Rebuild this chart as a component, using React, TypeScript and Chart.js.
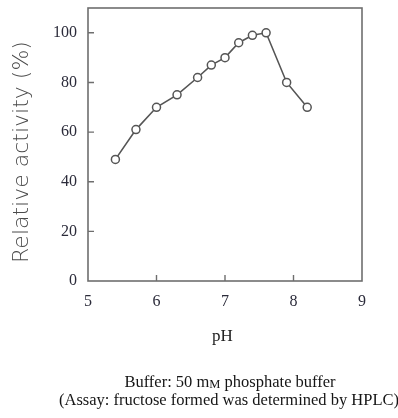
import React, { useEffect, useRef } from "react";
import { Chart, registerables } from "chart.js";

Chart.register(...registerables);

const phValues = [5.4, 5.7, 6.0, 6.3, 6.6, 6.8, 7.0, 7.2, 7.4, 7.6, 7.9, 8.2];
const activity = [49, 61, 70, 75, 82, 87, 90, 96, 99, 100, 80, 70];
const xTicks = [5, 6, 7, 8, 9];
const yTicks = [0, 20, 40, 60, 80, 100];
const yTitle = "Relative activity (%)";
const xTitle = "pH";
const captionLine1a = "Buffer: 50 m";
const captionLine1b = "M";
const captionLine1c = " phosphate buffer";
const captionLine2 = "(Assay: fructose formed was determined by HPLC)";

const frameColor = "#6e6e6e";
const tickFont = "16px 'Liberation Serif', 'Times New Roman', serif";
const tickColor = "#2b2b3a";

const framePlugin = {
  id: "framePlugin",
  afterDraw(chart: any) {
    const ctx = chart.ctx;
    const { left, right, top, bottom } = chart.chartArea;
    const xs = chart.scales.x;
    const ys = chart.scales.y;
    ctx.save();
    // frame
    ctx.strokeStyle = frameColor;
    ctx.lineWidth = 1.6;
    ctx.strokeRect(left, top, right - left, bottom - top);
    // inward ticks
    ctx.lineWidth = 1.4;
    ctx.beginPath();
    yTicks.forEach((v) => {
      if (v === 0) return;
      const y = ys.getPixelForValue(v);
      ctx.moveTo(left, y);
      ctx.lineTo(left + 6, y);
    });
    xTicks.forEach((v) => {
      if (v === 5 || v === 9) return;
      const x = xs.getPixelForValue(v);
      ctx.moveTo(x, bottom);
      ctx.lineTo(x, bottom - 6);
    });
    ctx.stroke();
    // tick labels
    ctx.fillStyle = tickColor;
    ctx.font = tickFont;
    ctx.textAlign = "right";
    ctx.textBaseline = "middle";
    yTicks.forEach((v) => {
      ctx.fillText(String(v), left - 11, ys.getPixelForValue(v));
    });
    ctx.textAlign = "center";
    xTicks.forEach((v) => {
      ctx.fillText(String(v), xs.getPixelForValue(v), bottom + 21);
    });
    // x title
    ctx.font = "17px 'Liberation Serif', 'Times New Roman', serif";
    ctx.fillStyle = "#222";
    ctx.textBaseline = "middle";
    ctx.fillText(xTitle, 222.5, 337);
    // y title
    ctx.save();
    ctx.translate(22, 152);
    ctx.rotate(-Math.PI / 2);
    ctx.font = "200 22px 'DejaVu Sans', sans-serif";
    ctx.fillStyle = "#4a4a4a";
    ctx.textAlign = "center";
    ctx.textBaseline = "middle";
    ctx.fillText(yTitle, 0, 0);
    ctx.restore();
    // captions
    const capFont = "16.5px 'Liberation Serif', 'Times New Roman', serif";
    const smallFont = "12.5px 'Liberation Serif', 'Times New Roman', serif";
    ctx.fillStyle = "#151515";
    ctx.textBaseline = "middle";
    ctx.textAlign = "left";
    ctx.font = capFont;
    const wa = ctx.measureText(captionLine1a).width;
    const wc = ctx.measureText(captionLine1c).width;
    ctx.font = smallFont;
    const wb = ctx.measureText(captionLine1b).width;
    const total = wa + wb + wc;
    let cx = 230 - total / 2;
    ctx.font = capFont;
    ctx.fillText(captionLine1a, cx, 383);
    cx += wa;
    ctx.font = smallFont;
    ctx.fillText(captionLine1b, cx, 384.5);
    cx += wb;
    ctx.font = capFont;
    ctx.fillText(captionLine1c, cx, 383);
    ctx.textAlign = "center";
    ctx.fillText(captionLine2, 229, 401);
    ctx.restore();
  },
};

export default function App() {
  const canvasRef = useRef<HTMLCanvasElement | null>(null);

  useEffect(() => {
    if (!canvasRef.current) return;
    const chart = new Chart(canvasRef.current, {
      type: "line",
      data: {
        datasets: [
          {
            data: phValues.map((x, i) => ({ x, y: activity[i] })),
            borderColor: "#555",
            borderWidth: 1.6,
            pointRadius: 4,
            pointBackgroundColor: "#fff",
            pointBorderColor: "#555",
            pointBorderWidth: 1.5,
            tension: 0,
            fill: false,
          },
        ],
      },
      options: {
        responsive: false,
        animation: false,
        layout: { padding: { left: 0, top: 8, right: 36, bottom: 0 } },
        plugins: { legend: { display: false }, tooltip: { enabled: false }, title: { display: false } },
        scales: {
          x: {
            type: "linear",
            min: 5,
            max: 9,
            grid: { display: false },
            border: { display: false },
            ticks: { display: false },
            afterBuildTicks: (s: any) => {
              s.ticks = xTicks.map((v) => ({ value: v }));
            },
            afterFit: (s: any) => {
              s.height = 137;
            },
          },
          y: {
            type: "linear",
            min: 0,
            max: 110,
            grid: { display: false },
            border: { display: false },
            ticks: { display: false },
            afterBuildTicks: (s: any) => {
              s.ticks = yTicks.map((v) => ({ value: v }));
            },
            afterFit: (s: any) => {
              s.width = 88;
            },
          },
        },
      },
      plugins: [framePlugin],
    });
    return () => chart.destroy();
  }, []);

  return (
    <div style={{ position: "fixed", left: 0, top: 0, width: 398, height: 418, background: "#fff" }}>
      <canvas ref={canvasRef} width={398} height={418} style={{ width: 398, height: 418 }} />
    </div>
  );
}
